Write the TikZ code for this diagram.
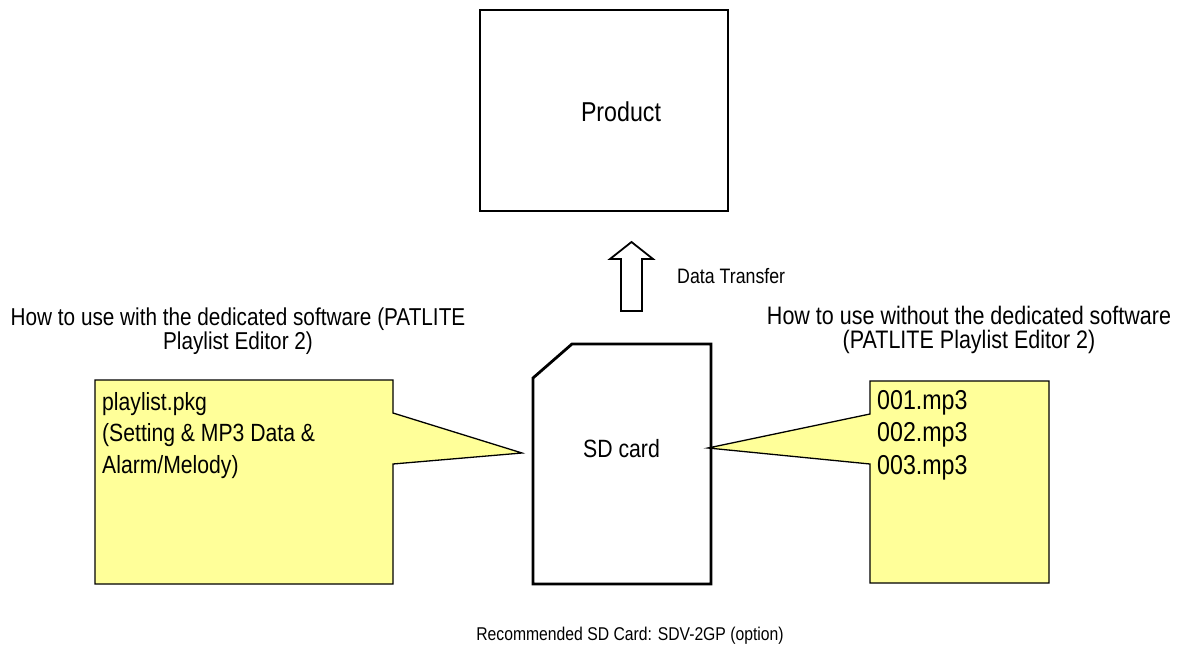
\documentclass[tikz,border=0pt]{standalone}
\usepackage{fontspec}
\setmainfont{Liberation Sans}[FakeStretch=0.85]
\usetikzlibrary{positioning}
\definecolor{notefill}{HTML}{FFFF99}

\begin{document}
\begin{tikzpicture}[x=1pt, y=-1pt,
          box/.style={draw, line width=2.6pt, inner sep=0pt},
          note/.style={draw, line width=1.3pt, fill=notefill, line join=miter},
          card/.style={draw, line width=2.8pt, line join=miter},
          blockarrow/.style={draw, line width=1.8pt, line join=miter},
          txt/.style={inner sep=0pt, anchor=base, align=center},
          notetxt/.style={inner sep=0pt, anchor=base west, align=left}]
          \useasboundingbox (0,0) rectangle (1187,653);
          % product
          \node[box, minimum width=248pt, minimum height=201pt] (product) at (604,110.5) {};
          \node[txt, font=\fontsize{27.3}{32}\selectfont] (productlabel) at (621,121) {Product};
          % transfer arrow
          \draw[blockarrow] (621,311) -- (621,259) -- (610,259) -- (631.5,242) -- (653,259) -- (642,259) -- (642,311) -- cycle;
          \node[txt, anchor=base west, font=\fontsize{20.9}{24}\selectfont] (transfer) at (677,283) {Data Transfer};
          % callouts
          \draw[note] (95,380) -- (393,380) -- (393,413) -- (522,453) -- (393,464) -- (393,584) -- (95,584) -- cycle;
          \draw[note] (870,381) -- (1049,381) -- (1049,583) -- (870,583) -- (870,464) -- (708,448) -- (870,414) -- cycle;
          % sd card
          \draw[card] (533,378) -- (572,344) -- (711,344) -- (711,584) -- (533,584) -- cycle;
          \node[txt, font=\fontsize{25}{29}\selectfont] (sdcard) at (621.5,457) {SD card};
          % texts (base = last line)
          \node[txt, font=\fontsize{24.4}{24}\selectfont] (withsw) at (238,349)
            {How to use with the dedicated software (PATLITE\\Playlist Editor 2)};
          \node[txt, font=\fontsize{25.3}{24}\selectfont] (withoutsw) at (969,348)
            {How to use without the dedicated software\\(PATLITE Playlist Editor 2)};
          \node[notetxt, font=\fontsize{24.9}{31.5}\selectfont] (pkg) at (102,473)
            {playlist.pkg\\(Setting \& MP3 Data \&\\Alarm/Melody)};
          \node[notetxt, font=\fontsize{27.3}{32.5}\selectfont] (mp3) at (877,474)
            {001.mp3\\002.mp3\\003.mp3};
          \node[txt, font=\fontsize{18.5}{22}\selectfont] (sdv) at (630,640)
            {Recommended SD Card: SDV-2GP (option)};
\end{tikzpicture}
\end{document}
